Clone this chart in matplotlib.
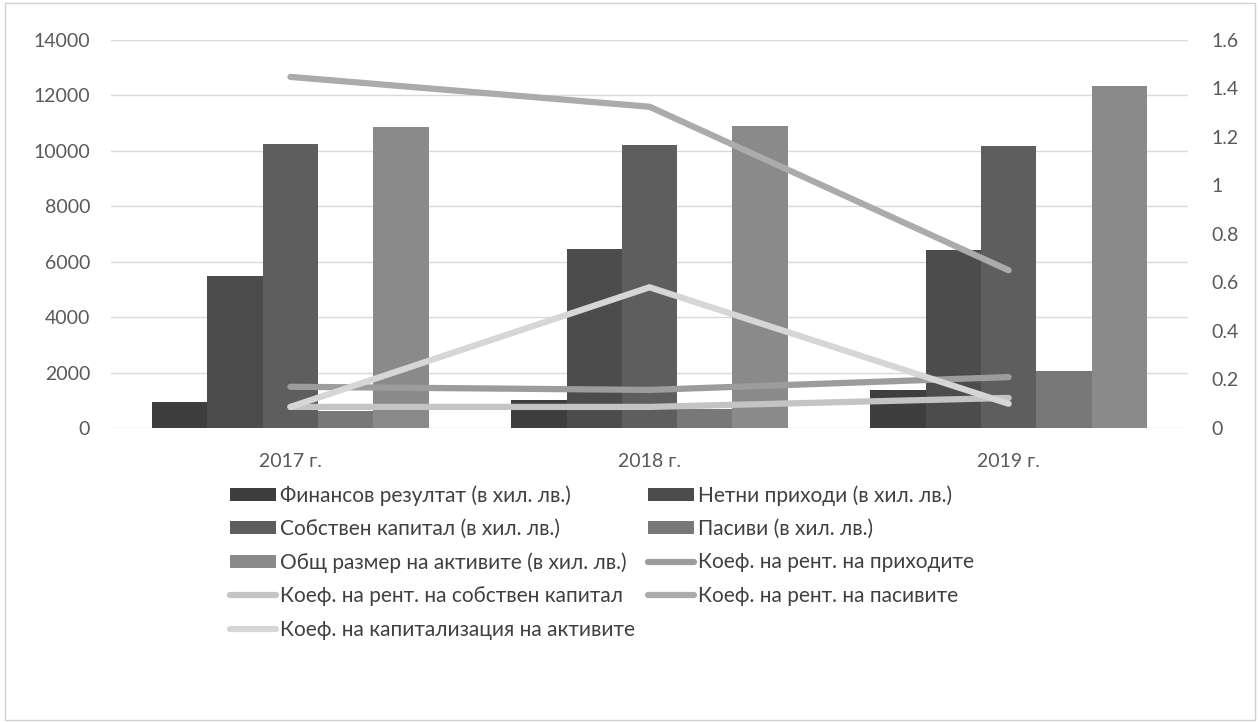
import numpy as np
import matplotlib
matplotlib.use("Agg")
import matplotlib.pyplot as plt
from matplotlib.patches import Rectangle

plt.rcParams['font.family'] = ['Lato', 'DejaVu Sans']

# years on the x axis
years = ['2017 г.', '2018 г.', '2019 г.']

# bar series (left axis, хил. лв.)
fin_result = [940, 1000, 1370]
net_income = [5490, 6450, 6430]
equity = [10250, 10220, 10180]
liabilities = [620, 680, 2060]
total_assets = [10870, 10900, 12350]

# line series (right axis)
k_income = [0.17, 0.157, 0.21]
k_equity = [0.087, 0.087, 0.124]
k_liab = [1.447, 1.324, 0.65]
k_cap = [0.087, 0.58, 0.10]

bar_names = ['Финансов резултат (в хил. лв.)', 'Нетни приходи (в хил. лв.)',
             'Собствен капитал (в хил. лв.)', 'Пасиви (в хил. лв.)',
             'Общ размер на активите (в хил. лв.)']
line_names = ['Коеф. на рент. на приходите', 'Коеф. на рент. на собствен капитал',
              'Коеф. на рент. на пасивите', 'Коеф. на капитализация на активите']

bar_colors = ['#3e3e3e', '#4c4c4c', '#5e5e5e', '#787878', '#8a8a8a']
line_colors = ['#9c9c9c', '#c4c4c4', '#ababab', '#d6d6d6']

txt = '#595959'

fig = plt.figure(figsize=(12.6, 7.23), dpi=100)
ax = fig.add_axes([0.088, 0.408, 0.855, 0.537])
x = np.arange(len(years))
w = 0.154

bars = []
for i, vals in enumerate([fin_result, net_income, equity, liabilities, total_assets]):
    b = ax.bar(x + (i - 2) * w, vals, w, color=bar_colors[i], label=bar_names[i], zorder=2)
    bars.append(b)

ax.set_ylim(0, 14000)
ax.set_yticks(range(0, 14001, 2000))
ax.set_xlim(-0.5, 2.5)
ax.set_xticks(x)
ax.set_xticklabels(years)
ax.yaxis.grid(True, color='#d9d9d9', lw=1, zorder=0)
ax.set_axisbelow(True)
for s in ax.spines.values():
    s.set_visible(False)
ax.tick_params(axis='y', length=0, colors=txt, labelsize=14, pad=15)
ax.tick_params(axis='x', length=0, colors=txt, labelsize=14, pad=18)

ax2 = ax.twinx()
lines = []
for i, vals in enumerate([k_income, k_equity, k_liab, k_cap]):
    l, = ax2.plot(x, vals, color=line_colors[i], lw=4.5, solid_capstyle='round',
                  label=line_names[i], zorder=3)
    lines.append(l)
ax2.set_ylim(0, 1.6)
ax2.set_yticks(np.arange(0, 1.61, 0.2))
ax2.set_yticklabels(['0', '0.2', '0.4', '0.6', '0.8', '1', '1.2', '1.4', '1.6'])
for s in ax2.spines.values():
    s.set_visible(False)
ax2.tick_params(axis='y', length=0, colors=txt, labelsize=14, pad=17)

# legend, filled column-wise so it reads row by row like the original
order = [bars[0], bars[2], bars[4], lines[1], lines[3],
         bars[1], bars[3], lines[0], lines[2]]
fig.legend(handles=order, labels=[h.get_label() for h in order],
           loc='upper left', bbox_to_anchor=(0.168, 0.355), ncol=2,
           frameon=False, fontsize=15, labelcolor='#404040',
           handlelength=2.2, handleheight=0.55, handletextpad=0.2,
           columnspacing=0.6, labelspacing=0.64)

fig.patches.append(Rectangle((0.004, 0.004), 0.992, 0.992, transform=fig.transFigure,
                             fill=False, edgecolor='#d0d0d0', lw=1))

fig.savefig('out.png', dpi=100)
